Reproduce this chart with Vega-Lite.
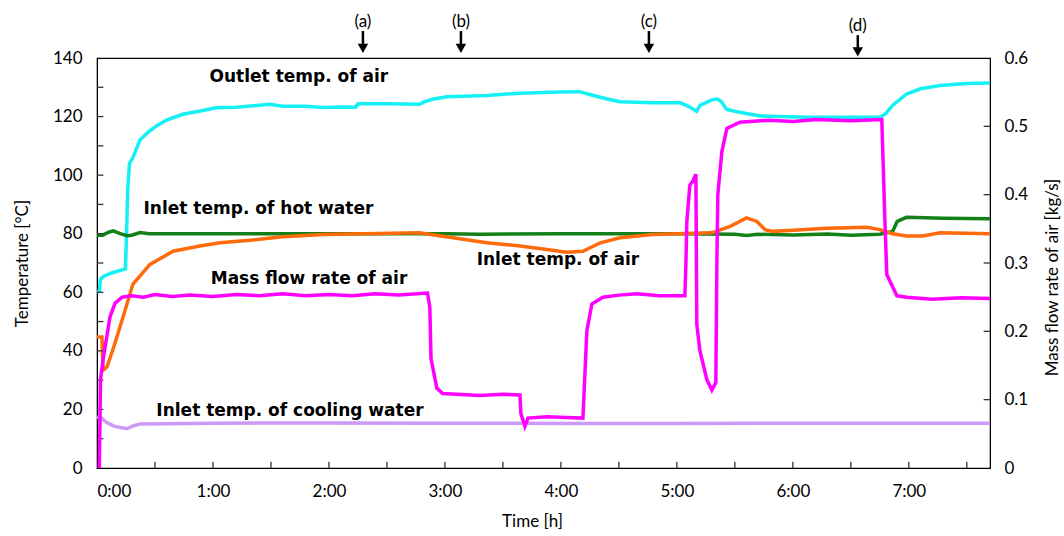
{
  "$schema": "https://vega.github.io/schema/vega-lite/v6.json",
  "width": 893,
  "height": 410,
  "autosize": {"type": "none"},
  "padding": {"left": 97, "top": 58, "right": 74, "bottom": 68},
  "background": "white",
  "config": {
    "view": {"stroke": "black", "strokeWidth": 1.2},
    "axis": {
      "labelFont": "Lato, Open Sans, sans-serif",
      "titleFont": "Lato, Open Sans, sans-serif",
      "labelFontSize": 17,
      "titleFontSize": 17,
      "titleFontWeight": "normal",
      "labelColor": "black",
      "titleColor": "black",
      "domainColor": "black",
      "ticks": false,
      "grid": false
    }
  },
  "datasets": {
    "temps": [
      {"t": 0, "T": 59.8, "s": "out"}, {"t": 0.02, "T": 60.5, "s": "out"}, {"t": 0.03, "T": 64.5, "s": "out"},
      {"t": 0.06, "T": 65.5, "s": "out"}, {"t": 0.12, "T": 66.5, "s": "out"}, {"t": 0.2, "T": 67.5, "s": "out"},
      {"t": 0.245, "T": 68, "s": "out"}, {"t": 0.255, "T": 80, "s": "out"}, {"t": 0.265, "T": 95, "s": "out"},
      {"t": 0.28, "T": 104, "s": "out"}, {"t": 0.31, "T": 106, "s": "out"}, {"t": 0.37, "T": 112, "s": "out"},
      {"t": 0.45, "T": 115, "s": "out"}, {"t": 0.52, "T": 117, "s": "out"}, {"t": 0.6, "T": 118.8, "s": "out"},
      {"t": 0.74, "T": 120.8, "s": "out"}, {"t": 0.9, "T": 122, "s": "out"}, {"t": 1.03, "T": 123, "s": "out"},
      {"t": 1.2, "T": 123.2, "s": "out"}, {"t": 1.49, "T": 124.2, "s": "out"}, {"t": 1.6, "T": 123.5, "s": "out"},
      {"t": 1.8, "T": 123.5, "s": "out"}, {"t": 1.95, "T": 123.1, "s": "out"}, {"t": 2.1, "T": 123.3, "s": "out"},
      {"t": 2.23, "T": 123.2, "s": "out"}, {"t": 2.25, "T": 124.4, "s": "out"}, {"t": 2.5, "T": 124.4, "s": "out"},
      {"t": 2.78, "T": 124.2, "s": "out"}, {"t": 2.82, "T": 125, "s": "out"}, {"t": 2.9, "T": 126, "s": "out"},
      {"t": 3.02, "T": 126.8, "s": "out"}, {"t": 3.36, "T": 127.2, "s": "out"}, {"t": 3.65, "T": 128, "s": "out"},
      {"t": 4.0, "T": 128.4, "s": "out"}, {"t": 4.16, "T": 128.5, "s": "out"}, {"t": 4.28, "T": 127.2, "s": "out"},
      {"t": 4.4, "T": 126, "s": "out"}, {"t": 4.51, "T": 125.1, "s": "out"}, {"t": 4.79, "T": 124.7, "s": "out"},
      {"t": 5.03, "T": 124.7, "s": "out"}, {"t": 5.1, "T": 123.5, "s": "out"}, {"t": 5.17, "T": 121.8, "s": "out"},
      {"t": 5.2, "T": 123.8, "s": "out"}, {"t": 5.3, "T": 125.7, "s": "out"}, {"t": 5.35, "T": 126, "s": "out"},
      {"t": 5.38, "T": 125.2, "s": "out"}, {"t": 5.43, "T": 122.4, "s": "out"}, {"t": 5.54, "T": 121.5, "s": "out"},
      {"t": 5.72, "T": 120.2, "s": "out"}, {"t": 6.12, "T": 119.8, "s": "out"}, {"t": 6.75, "T": 119.8, "s": "out"},
      {"t": 6.8, "T": 121, "s": "out"}, {"t": 6.86, "T": 123.8, "s": "out"}, {"t": 6.98, "T": 127.7, "s": "out"},
      {"t": 7.1, "T": 129.5, "s": "out"}, {"t": 7.27, "T": 130.6, "s": "out"}, {"t": 7.5, "T": 131.3, "s": "out"},
      {"t": 7.7, "T": 131.5, "s": "out"},

      {"t": 0, "T": 79.5, "s": "hot"}, {"t": 0.05, "T": 79.5, "s": "hot"}, {"t": 0.1, "T": 80.5, "s": "hot"},
      {"t": 0.14, "T": 81, "s": "hot"}, {"t": 0.2, "T": 80, "s": "hot"}, {"t": 0.26, "T": 79.3, "s": "hot"},
      {"t": 0.3, "T": 79.5, "s": "hot"}, {"t": 0.37, "T": 80.4, "s": "hot"}, {"t": 0.45, "T": 80, "s": "hot"},
      {"t": 1, "T": 80, "s": "hot"}, {"t": 2, "T": 80, "s": "hot"}, {"t": 3, "T": 80, "s": "hot"},
      {"t": 3.3, "T": 79.8, "s": "hot"}, {"t": 4, "T": 80, "s": "hot"}, {"t": 5, "T": 80, "s": "hot"},
      {"t": 5.5, "T": 79.8, "s": "hot"}, {"t": 5.6, "T": 79.4, "s": "hot"}, {"t": 5.7, "T": 79.8, "s": "hot"},
      {"t": 6, "T": 79.6, "s": "hot"}, {"t": 6.3, "T": 79.9, "s": "hot"}, {"t": 6.5, "T": 79.5, "s": "hot"},
      {"t": 6.75, "T": 79.8, "s": "hot"}, {"t": 6.86, "T": 80.8, "s": "hot"}, {"t": 6.9, "T": 84.2, "s": "hot"},
      {"t": 6.98, "T": 85.6, "s": "hot"}, {"t": 7.3, "T": 85.3, "s": "hot"}, {"t": 7.7, "T": 85.1, "s": "hot"},

      {"t": 0, "T": 44.7, "s": "air"}, {"t": 0.043, "T": 44.7, "s": "air"}, {"t": 0.052, "T": 33.4, "s": "air"},
      {"t": 0.086, "T": 34.5, "s": "air"}, {"t": 0.15, "T": 42, "s": "air"}, {"t": 0.224, "T": 51.5, "s": "air"},
      {"t": 0.31, "T": 62.8, "s": "air"}, {"t": 0.457, "T": 69.5, "s": "air"}, {"t": 0.655, "T": 74, "s": "air"},
      {"t": 0.888, "T": 75.8, "s": "air"}, {"t": 1.06, "T": 76.9, "s": "air"}, {"t": 1.38, "T": 78, "s": "air"},
      {"t": 1.6, "T": 79, "s": "air"}, {"t": 1.95, "T": 79.7, "s": "air"}, {"t": 2.3, "T": 80, "s": "air"},
      {"t": 2.78, "T": 80.3, "s": "air"}, {"t": 3.07, "T": 78.6, "s": "air"}, {"t": 3.36, "T": 76.9, "s": "air"},
      {"t": 3.65, "T": 75.8, "s": "air"}, {"t": 3.88, "T": 74.6, "s": "air"}, {"t": 4.05, "T": 73.7, "s": "air"},
      {"t": 4.19, "T": 74, "s": "air"}, {"t": 4.34, "T": 76.9, "s": "air"}, {"t": 4.51, "T": 78.6, "s": "air"},
      {"t": 4.79, "T": 79.7, "s": "air"}, {"t": 5, "T": 80, "s": "air"}, {"t": 5.3, "T": 80.3, "s": "air"},
      {"t": 5.46, "T": 82.5, "s": "air"}, {"t": 5.6, "T": 85.4, "s": "air"}, {"t": 5.69, "T": 84.2, "s": "air"},
      {"t": 5.76, "T": 81.4, "s": "air"}, {"t": 5.83, "T": 80.8, "s": "air"}, {"t": 6.0, "T": 81.2, "s": "air"},
      {"t": 6.29, "T": 81.9, "s": "air"}, {"t": 6.64, "T": 82.2, "s": "air"}, {"t": 6.75, "T": 81.4, "s": "air"},
      {"t": 6.86, "T": 80, "s": "air"}, {"t": 6.98, "T": 79.2, "s": "air"}, {"t": 7.12, "T": 79.2, "s": "air"},
      {"t": 7.27, "T": 80.3, "s": "air"}, {"t": 7.7, "T": 80, "s": "air"},

      {"t": 0, "T": 17.3, "s": "cool"}, {"t": 0.04, "T": 17, "s": "cool"}, {"t": 0.08, "T": 15.6, "s": "cool"},
      {"t": 0.15, "T": 14.2, "s": "cool"}, {"t": 0.26, "T": 13.4, "s": "cool"}, {"t": 0.3, "T": 14.2, "s": "cool"},
      {"t": 0.37, "T": 15, "s": "cool"}, {"t": 0.6, "T": 15.1, "s": "cool"}, {"t": 1, "T": 15.3, "s": "cool"},
      {"t": 2, "T": 15.4, "s": "cool"}, {"t": 3, "T": 15.3, "s": "cool"}, {"t": 4, "T": 15.2, "s": "cool"},
      {"t": 5, "T": 15.2, "s": "cool"}, {"t": 6, "T": 15.3, "s": "cool"}, {"t": 7, "T": 15.3, "s": "cool"},
      {"t": 7.7, "T": 15.3, "s": "cool"}
    ],
    "flow": [
      {"t": 0.02, "m": 0}, {"t": 0.03, "m": 0.129}, {"t": 0.052, "m": 0.158}, {"t": 0.112, "m": 0.221},
      {"t": 0.155, "m": 0.241}, {"t": 0.216, "m": 0.25}, {"t": 0.3, "m": 0.252}, {"t": 0.4, "m": 0.25},
      {"t": 0.5, "m": 0.254}, {"t": 0.65, "m": 0.251}, {"t": 0.8, "m": 0.253}, {"t": 1.0, "m": 0.251},
      {"t": 1.2, "m": 0.254}, {"t": 1.4, "m": 0.252}, {"t": 1.6, "m": 0.255}, {"t": 1.8, "m": 0.252},
      {"t": 2.0, "m": 0.254}, {"t": 2.2, "m": 0.252}, {"t": 2.4, "m": 0.255}, {"t": 2.6, "m": 0.253},
      {"t": 2.85, "m": 0.256}, {"t": 2.87, "m": 0.235}, {"t": 2.88, "m": 0.16}, {"t": 2.9, "m": 0.143},
      {"t": 2.93, "m": 0.117}, {"t": 2.98, "m": 0.109}, {"t": 3.1, "m": 0.108}, {"t": 3.3, "m": 0.106},
      {"t": 3.5, "m": 0.108}, {"t": 3.647, "m": 0.107}, {"t": 3.655, "m": 0.08}, {"t": 3.69, "m": 0.061},
      {"t": 3.716, "m": 0.073}, {"t": 3.879, "m": 0.075}, {"t": 4.05, "m": 0.074}, {"t": 4.19, "m": 0.073},
      {"t": 4.224, "m": 0.201}, {"t": 4.267, "m": 0.24}, {"t": 4.362, "m": 0.25}, {"t": 4.5, "m": 0.253},
      {"t": 4.655, "m": 0.255}, {"t": 4.85, "m": 0.252}, {"t": 5.069, "m": 0.252}, {"t": 5.078, "m": 0.3},
      {"t": 5.086, "m": 0.361}, {"t": 5.112, "m": 0.414}, {"t": 5.138, "m": 0.42}, {"t": 5.164, "m": 0.43},
      {"t": 5.172, "m": 0.21}, {"t": 5.198, "m": 0.172}, {"t": 5.259, "m": 0.129}, {"t": 5.302, "m": 0.114},
      {"t": 5.336, "m": 0.125}, {"t": 5.345, "m": 0.3}, {"t": 5.353, "m": 0.4}, {"t": 5.388, "m": 0.463},
      {"t": 5.431, "m": 0.497}, {"t": 5.543, "m": 0.506}, {"t": 5.8, "m": 0.509}, {"t": 6.0, "m": 0.507},
      {"t": 6.2, "m": 0.51}, {"t": 6.5, "m": 0.508}, {"t": 6.767, "m": 0.51}, {"t": 6.793, "m": 0.366},
      {"t": 6.81, "m": 0.283}, {"t": 6.897, "m": 0.252}, {"t": 6.983, "m": 0.25}, {"t": 7.2, "m": 0.247},
      {"t": 7.45, "m": 0.249}, {"t": 7.7, "m": 0.248}
    ],
    "labels": [
      {"t": 1.741, "T": 133.5, "label": "Outlet temp. of air"},
      {"t": 1.392, "T": 88.4, "label": "Inlet temp. of hot water"},
      {"t": 1.828, "T": 64.5, "label": "Mass flow rate of air"},
      {"t": 1.664, "T": 19.3, "label": "Inlet temp. of cooling water"},
      {"t": 3.974, "T": 71, "label": "Inlet temp. of air"}
    ],
    "marks": [
      {"t": 2.293, "label": "(a)"},
      {"t": 3.138, "label": "(b)"},
      {"t": 4.759, "label": "(c)"},
      {"t": 6.56, "label": "(d)"}
    ],
    "xticks": [
      {"t": 0.5}, {"t": 1}, {"t": 1.5}, {"t": 2}, {"t": 2.5}, {"t": 3}, {"t": 3.5}, {"t": 4},
      {"t": 4.5}, {"t": 5}, {"t": 5.5}, {"t": 6}, {"t": 6.5}, {"t": 7}, {"t": 7.5}
    ],
    "yticks": [
      {"T": 10}, {"T": 20}, {"T": 30}, {"T": 40}, {"T": 50}, {"T": 60}, {"T": 70},
      {"T": 80}, {"T": 90}, {"T": 100}, {"T": 110}, {"T": 120}, {"T": 130}
    ],
    "mticks": [
      {"m": 0.1}, {"m": 0.2}, {"m": 0.3}, {"m": 0.4}, {"m": 0.5}
    ]
  },
  "layer": [
    {
      "layer": [
        {
          "data": {"name": "temps"},
          "mark": {"type": "line", "strokeWidth": 3.5, "clip": true},
          "encoding": {
            "x": {
              "field": "t", "type": "quantitative",
              "scale": {"domain": [0, 7.7], "nice": false, "zero": false},
              "axis": {
                "title": "Time [h]",
                "values": [0, 1, 2, 3, 4, 5, 6, 7],
                "labelExpr": "format(datum.value, 'd') + ':00'",
                "labelPadding": 15,
                "labelBaseline": "top",
                "titleX": 435, "titleY": 53, "titleBaseline": "middle", "titleAnchor": null
              }
            },
            "y": {
              "field": "T", "type": "quantitative",
              "scale": {"domain": [0, 140], "nice": false},
              "axis": {
                "title": "Temperature [°C]",
                "values": [0, 10, 20, 30, 40, 50, 60, 70, 80, 90, 100, 110, 120, 130, 140],
                "format": "d",
                "labelPadding": 15,
                "titleX": -75, "titleY": 205, "titleBaseline": "middle", "titleAlign": "center", "titleAngle": 270
              }
            },
            "color": {
              "field": "s", "type": "nominal",
              "scale": {"domain": ["out", "hot", "air", "cool"], "range": ["#14F0F4", "#13801A", "#FF6A0A", "#CC99F8"]},
              "legend": null
            }
          }
        },
        {
          "data": {"name": "xticks"},
          "mark": {"type": "rule", "strokeWidth": 1.3, "color": "#333333"},
          "encoding": {
            "x": {"field": "t", "type": "quantitative", "scale": {"domain": [0, 7.7], "nice": false, "zero": false}},
            "y": {"datum": 0, "type": "quantitative", "scale": {"domain": [0, 140], "nice": false}},
            "y2": {"datum": 2.1}
          }
        },
        {
          "data": {"name": "yticks"},
          "mark": {"type": "rule", "strokeWidth": 1.3, "color": "#333333"},
          "encoding": {
            "y": {"field": "T", "type": "quantitative", "scale": {"domain": [0, 140], "nice": false}},
            "x": {"datum": 0, "type": "quantitative", "scale": {"domain": [0, 7.7], "nice": false, "zero": false}},
            "x2": {"datum": 0.055}
          }
        },
        {
          "data": {"name": "labels"},
          "mark": {"type": "text", "font": "DejaVu Sans", "fontWeight": "bold", "fontSize": 17, "align": "center", "baseline": "middle", "color": "black"},
          "encoding": {
            "x": {"field": "t", "type": "quantitative", "scale": {"domain": [0, 7.7], "nice": false, "zero": false}},
            "y": {"field": "T", "type": "quantitative", "scale": {"domain": [0, 140], "nice": false}},
            "text": {"field": "label"}
          }
        },
        {
          "data": {"name": "marks"},
          "transform": [{"filter": "datum.label != '(d)'"}],
          "mark": {"type": "text", "font": "Lato, Open Sans, sans-serif", "fontSize": 17, "align": "center", "baseline": "middle", "color": "black"},
          "encoding": {
            "x": {"field": "t", "type": "quantitative", "scale": {"domain": [0, 7.7], "nice": false, "zero": false}},
            "y": {"datum": 152.3, "type": "quantitative", "scale": {"domain": [0, 140], "nice": false}},
            "text": {"field": "label"}
          }
        },
        {
          "data": {"name": "marks"},
          "transform": [{"filter": "datum.label != '(d)'"}],
          "mark": {"type": "rule", "strokeWidth": 2.5, "color": "black"},
          "encoding": {
            "x": {"field": "t", "type": "quantitative", "scale": {"domain": [0, 7.7], "nice": false, "zero": false}},
            "y": {"datum": 149.2, "type": "quantitative", "scale": {"domain": [0, 140], "nice": false}},
            "y2": {"datum": 144.5}
          }
        },
        {
          "data": {"name": "marks"},
          "transform": [{"filter": "datum.label != '(d)'"}],
          "mark": {"type": "point", "shape": "triangle-down", "filled": true, "size": 110, "color": "black", "opacity": 1},
          "encoding": {
            "x": {"field": "t", "type": "quantitative", "scale": {"domain": [0, 7.7], "nice": false, "zero": false}},
            "y": {"datum": 143.3, "type": "quantitative", "scale": {"domain": [0, 140], "nice": false}}
          }
        },
        {
          "data": {"name": "marks"},
          "transform": [{"filter": "datum.label == '(d)'"}],
          "mark": {"type": "text", "font": "Lato, Open Sans, sans-serif", "fontSize": 17, "align": "center", "baseline": "middle", "color": "black"},
          "encoding": {
            "x": {"field": "t", "type": "quantitative", "scale": {"domain": [0, 7.7], "nice": false, "zero": false}},
            "y": {"datum": 150.8, "type": "quantitative", "scale": {"domain": [0, 140], "nice": false}},
            "text": {"field": "label"}
          }
        },
        {
          "data": {"name": "marks"},
          "transform": [{"filter": "datum.label == '(d)'"}],
          "mark": {"type": "rule", "strokeWidth": 2.5, "color": "black"},
          "encoding": {
            "x": {"field": "t", "type": "quantitative", "scale": {"domain": [0, 7.7], "nice": false, "zero": false}},
            "y": {"datum": 147.8, "type": "quantitative", "scale": {"domain": [0, 140], "nice": false}},
            "y2": {"datum": 143.3}
          }
        },
        {
          "data": {"name": "marks"},
          "transform": [{"filter": "datum.label == '(d)'"}],
          "mark": {"type": "point", "shape": "triangle-down", "filled": true, "size": 110, "color": "black", "opacity": 1},
          "encoding": {
            "x": {"field": "t", "type": "quantitative", "scale": {"domain": [0, 7.7], "nice": false, "zero": false}},
            "y": {"datum": 142.1, "type": "quantitative", "scale": {"domain": [0, 140], "nice": false}}
          }
        }
      ]
    },
    {
      "layer": [
        {
          "data": {"name": "flow"},
          "mark": {"type": "line", "strokeWidth": 3.5, "color": "#FF00FF", "clip": true},
          "encoding": {
            "x": {"field": "t", "type": "quantitative", "scale": {"domain": [0, 7.7], "nice": false, "zero": false}},
            "y": {
              "field": "m", "type": "quantitative",
              "scale": {"domain": [0, 0.6], "nice": false},
              "axis": {
                "orient": "right",
                "title": "Mass flow rate of air  [kg/s]",
                "values": [0, 0.1, 0.2, 0.3, 0.4, 0.5, 0.6],
                "format": ".1~f",
                "labelPadding": 14,
                "titleX": 62, "titleY": 219, "titleBaseline": "middle", "titleAlign": "center", "titleAngle": 270
              }
            }
          }
        },
        {
          "data": {"name": "mticks"},
          "mark": {"type": "rule", "strokeWidth": 1.3, "color": "#333333"},
          "encoding": {
            "y": {"field": "m", "type": "quantitative", "scale": {"domain": [0, 0.6], "nice": false}},
            "x": {"datum": 7.645, "type": "quantitative", "scale": {"domain": [0, 7.7], "nice": false, "zero": false}},
            "x2": {"datum": 7.7}
          }
        }
      ]
    }
  ],
  "resolve": {"scale": {"y": "independent"}}
}
